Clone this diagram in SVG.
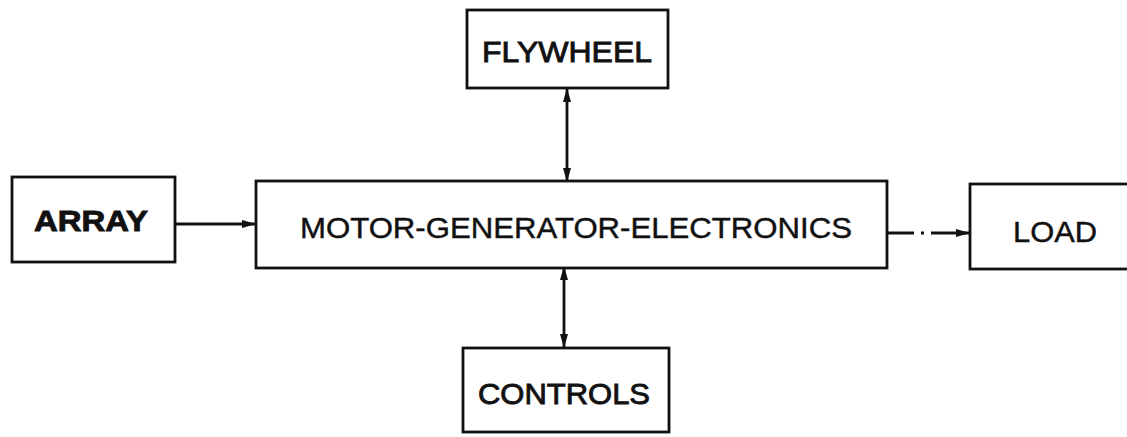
<svg xmlns="http://www.w3.org/2000/svg" width="1127" height="437" viewBox="0 0 1127 437">
<style>
.box{fill:#fff;stroke:#111;stroke-width:2.8}
.lbl{font-family:"Liberation Sans",Arial,sans-serif;font-size:30px;fill:#111;stroke:#111;stroke-width:0.9;text-anchor:middle}
.thin{stroke-width:0.45}
.con{stroke:#111;stroke-width:2.8;fill:none}
</style>
<defs>
<marker id="ah" viewBox="0 0 14 10" refX="13" refY="5" markerWidth="14" markerHeight="10" markerUnits="userSpaceOnUse" orient="auto-start-reverse">
<path d="M0,1 L14,5 L0,9 Z" fill="#111"/>
</marker>
</defs>
<rect width="1127" height="437" fill="#fff"/>
<g id="connectors">
<line class="con" x1="175" y1="224" x2="255" y2="224" marker-end="url(#ah)"/>
<line class="con" x1="888" y1="233" x2="969" y2="233" stroke-dasharray="26 7 3 7 100" marker-end="url(#ah)"/>
<line class="con" x1="567" y1="89" x2="567" y2="181" marker-start="url(#ah)" marker-end="url(#ah)"/>
<line class="con" x1="564" y1="267" x2="564" y2="347" marker-start="url(#ah)" marker-end="url(#ah)"/>
</g>
<g id="array">
<rect class="box" x="12" y="177" width="163" height="85"/>
<text class="lbl" x="91" y="231" font-weight="bold" stroke-width="0.4" textLength="114" lengthAdjust="spacingAndGlyphs">ARRAY</text>
</g>
<g id="mge">
<rect class="box" x="256" y="181" width="631" height="87"/>
<text class="lbl thin" x="576" y="238" textLength="552" lengthAdjust="spacingAndGlyphs">MOTOR-GENERATOR-ELECTRONICS</text>
</g>
<g id="load">
<rect class="box" x="970" y="184" width="170" height="85"/>
<text class="lbl thin" x="1055" y="242" textLength="84" lengthAdjust="spacingAndGlyphs">LOAD</text>
</g>
<g id="flywheel">
<rect class="box" x="467" y="10" width="201" height="78"/>
<text class="lbl" x="567" y="62" textLength="170" lengthAdjust="spacingAndGlyphs">FLYWHEEL</text>
</g>
<g id="controls">
<rect class="box" x="463" y="348" width="206" height="84"/>
<text class="lbl" x="564" y="404" textLength="172" lengthAdjust="spacingAndGlyphs">CONTROLS</text>
</g>
</svg>
